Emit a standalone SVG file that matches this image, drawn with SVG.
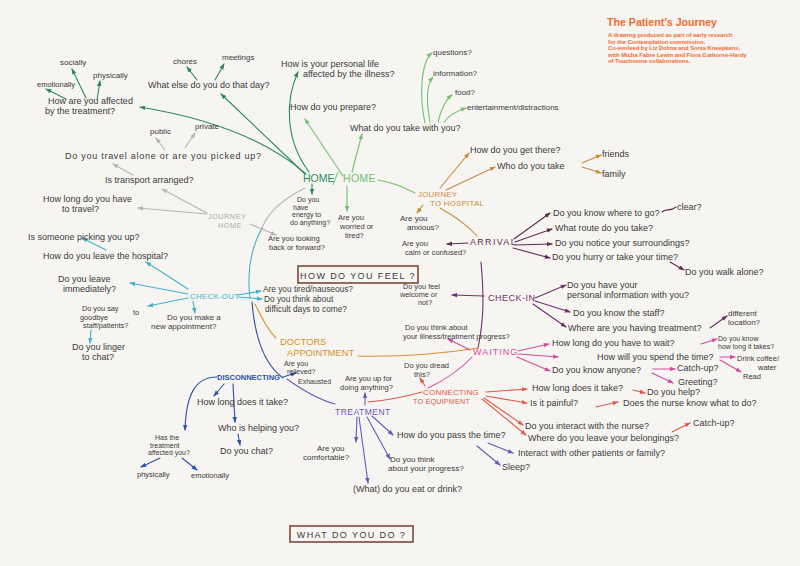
<svg xmlns="http://www.w3.org/2000/svg" width="800" height="566" viewBox="0 0 800 566">
<style>
.t{font-family:"Liberation Sans",Arial,sans-serif;font-size:9px;fill:#3a3a3a}
.s{font-size:8px}
.xs{font-size:7.5px}
.h{font-family:"Liberation Sans",Arial,sans-serif;font-size:9px;letter-spacing:0.8px}
.c{fill:none;stroke-width:1.1;stroke-linecap:round}
.dg{stroke:#2a8a5a}.lg{stroke:#72c072}.gr{stroke:#b5b5b5}.cy{stroke:#40b3cc}.bl{stroke:#2d50a8}
.pu{stroke:#6a58b8}.rd{stroke:#e0584a}.mg{stroke:#d24ca0}.pl{stroke:#6e2f6e}.mr{stroke:#5c2d4f}.or{stroke:#c98a3a}.da{stroke:#d4922a}
.box{fill:none;stroke:#7a4a3a;stroke-width:1.6}
.ttl{font-family:"Liberation Sans",Arial,sans-serif;fill:#f26a2e;font-weight:bold}
</style>
<defs>
<marker id="a-dg" viewBox="0 0 8 8" refX="7" refY="4" markerWidth="6" markerHeight="6" markerUnits="userSpaceOnUse" orient="auto"><path d="M0,1 L8,4 L0,7z" fill="#2a8a5a"/></marker>
<marker id="a-lg" viewBox="0 0 8 8" refX="7" refY="4" markerWidth="6" markerHeight="6" markerUnits="userSpaceOnUse" orient="auto"><path d="M0,1 L8,4 L0,7z" fill="#72c072"/></marker>
<marker id="a-gr" viewBox="0 0 8 8" refX="7" refY="4" markerWidth="6" markerHeight="6" markerUnits="userSpaceOnUse" orient="auto"><path d="M0,1 L8,4 L0,7z" fill="#b5b5b5"/></marker>
<marker id="a-cy" viewBox="0 0 8 8" refX="7" refY="4" markerWidth="6" markerHeight="6" markerUnits="userSpaceOnUse" orient="auto"><path d="M0,1 L8,4 L0,7z" fill="#40b3cc"/></marker>
<marker id="a-bl" viewBox="0 0 8 8" refX="7" refY="4" markerWidth="6" markerHeight="6" markerUnits="userSpaceOnUse" orient="auto"><path d="M0,1 L8,4 L0,7z" fill="#2d50a8"/></marker>
<marker id="a-pu" viewBox="0 0 8 8" refX="7" refY="4" markerWidth="6" markerHeight="6" markerUnits="userSpaceOnUse" orient="auto"><path d="M0,1 L8,4 L0,7z" fill="#6a58b8"/></marker>
<marker id="a-rd" viewBox="0 0 8 8" refX="7" refY="4" markerWidth="6" markerHeight="6" markerUnits="userSpaceOnUse" orient="auto"><path d="M0,1 L8,4 L0,7z" fill="#e0584a"/></marker>
<marker id="a-mg" viewBox="0 0 8 8" refX="7" refY="4" markerWidth="6" markerHeight="6" markerUnits="userSpaceOnUse" orient="auto"><path d="M0,1 L8,4 L0,7z" fill="#d24ca0"/></marker>
<marker id="a-pl" viewBox="0 0 8 8" refX="7" refY="4" markerWidth="6" markerHeight="6" markerUnits="userSpaceOnUse" orient="auto"><path d="M0,1 L8,4 L0,7z" fill="#6e2f6e"/></marker>
<marker id="a-mr" viewBox="0 0 8 8" refX="7" refY="4" markerWidth="6" markerHeight="6" markerUnits="userSpaceOnUse" orient="auto"><path d="M0,1 L8,4 L0,7z" fill="#5c2d4f"/></marker>
<marker id="a-or" viewBox="0 0 8 8" refX="7" refY="4" markerWidth="6" markerHeight="6" markerUnits="userSpaceOnUse" orient="auto"><path d="M0,1 L8,4 L0,7z" fill="#c98a3a"/></marker>
</defs>
<rect width="800" height="566" fill="#f7f5f2"/>

<g id="title">
<text class="ttl" x="607" y="26" font-size="11.5" textLength="110" lengthAdjust="spacingAndGlyphs">The Patient’s Journey</text>
<text class="ttl" font-size="5.8"><tspan x="608" y="37">A drawing produced as part of early research</tspan><tspan x="608" y="43.5">for the Contemplation commission.</tspan><tspan x="608" y="50">Co-evolved by Liz Dolma and Sonia Kneepkens,</tspan><tspan x="608" y="56.5">with Micha Fabre Lewin and Flora Gathorne-Hardy</tspan><tspan x="608" y="63">of Touchstone collaborations.</tspan></text>
</g>

<g id="connectors">
<path class="c gr" d="M305,188 C285,198 268,212 262,228"/>
<path class="c cy" d="M262,228 C250,250 247,275 250,298"/>
<path class="c bl" d="M252,302 C255,340 265,365 283,378"/>
<path class="c pu" d="M287,379 C305,392 320,400 335,404"/>
<path class="c rd" d="M368,402 C390,400 408,396 422,392"/>
<path class="c mg" d="M428,388 C445,380 460,370 472,357"/>
<path class="c pl" d="M478,348 C484,320 484,295 481,262"/>
<path class="c or" d="M440,208 C458,218 470,228 477,236"/>
<path class="c lg" d="M378,180 C395,183 405,188 415,193"/>
<path class="c da" d="M255,304 C262,318 268,330 276,338"/>
<path class="c da" d="M358,356 C400,357 440,354 478,348"/>
<path class="c dg" d="M306,174 Q250,125 140,107" marker-end="url(#a-dg)"/>
<path class="c dg" d="M305,174 L221,94" marker-end="url(#a-dg)"/>
<path class="c dg" d="M309,172 C285,140 285,100 298,72" marker-end="url(#a-dg)"/>
<path class="c dg" d="M312,184 L312,194" marker-end="url(#a-dg)"/>
<path class="c dg" d="M86,98 L72,69" marker-end="url(#a-dg)"/>
<path class="c dg" d="M66,99 L46,89" marker-end="url(#a-dg)"/>
<path class="c dg" d="M97,100 L100,81" marker-end="url(#a-dg)"/>
<path class="c dg" d="M197,80 L187,67" marker-end="url(#a-dg)"/>
<path class="c dg" d="M215,80 L224,64" marker-end="url(#a-dg)"/>
<path class="c lg" d="M343,176 L305,119" marker-end="url(#a-lg)"/>
<path class="c lg" d="M352,172 L362,134" marker-end="url(#a-lg)"/>
<path class="c lg" d="M425,123 C419,95 421,62 432,53" marker-end="url(#a-lg)"/>
<path class="c lg" d="M430,122 C426,100 427,84 433,77" marker-end="url(#a-lg)"/>
<path class="c lg" d="M438,122 C441,110 445,100 452,95" marker-end="url(#a-lg)"/>
<path class="c lg" d="M444,122 C449,115 457,111 466,108" marker-end="url(#a-lg)"/>
<path class="c lg" d="M347,186 L347,211" marker-end="url(#a-lg)"/>
<path class="c gr" d="M207,213 L162,189" marker-end="url(#a-gr)"/>
<path class="c gr" d="M133,175 L113,164" marker-end="url(#a-gr)"/>
<path class="c gr" d="M165,150 L156,138" marker-end="url(#a-gr)"/>
<path class="c gr" d="M185,148 L195,133" marker-end="url(#a-gr)"/>
<path class="c gr" d="M207,214 L138,208" marker-end="url(#a-gr)"/>
<path class="c gr" d="M250,224 L276,235" marker-end="url(#a-gr)"/>
<path class="c cy" d="M188,289 L146,262" marker-end="url(#a-cy)"/>
<path class="c cy" d="M106,250 L82,238" marker-end="url(#a-cy)"/>
<path class="c cy" d="M188,294 L130,283" marker-end="url(#a-cy)"/>
<path class="c cy" d="M188,298 L148,306" marker-end="url(#a-cy)"/>
<path class="c cy" d="M91,330 L90,343" marker-end="url(#a-cy)"/>
<path class="c cy" d="M193,301 L195,313" marker-end="url(#a-cy)"/>
<path class="c cy" d="M238,295 L261,291" marker-end="url(#a-cy)"/>
<path class="c cy" d="M238,297 L262,299" marker-end="url(#a-cy)"/>
<path class="c bl" d="M283,377 L296,373" marker-end="url(#a-bl)"/>
<path class="c bl" d="M224,384 L214,396" marker-end="url(#a-bl)"/>
<path class="c bl" d="M233,384 L235,422" marker-end="url(#a-bl)"/>
<path class="c bl" d="M238,434 L240,445" marker-end="url(#a-bl)"/>
<path class="c bl" d="M217,377 C195,377 186,395 185,430" marker-end="url(#a-bl)"/>
<path class="c bl" d="M160,458 L141,467" marker-end="url(#a-bl)"/>
<path class="c bl" d="M182,458 L197,470" marker-end="url(#a-bl)"/>
<path class="c pu" d="M365,405 L365,393" marker-end="url(#a-pu)"/>
<path class="c pu" d="M357,417 L356,442" marker-end="url(#a-pu)"/>
<path class="c pu" d="M359,417 L368,483" marker-end="url(#a-pu)"/>
<path class="c pu" d="M367,417 L390,459" marker-end="url(#a-pu)"/>
<path class="c pu" d="M372,416 L393,435" marker-end="url(#a-pu)"/>
<path class="c pu" d="M488,443 L513,453" marker-end="url(#a-pu)"/>
<path class="c pu" d="M477,446 L500,465" marker-end="url(#a-pu)"/>
<path class="c rd" d="M486,392 L527,389" marker-end="url(#a-rd)"/>
<path class="c rd" d="M633,390 L645,393" marker-end="url(#a-rd)"/>
<path class="c rd" d="M486,396 L527,403" marker-end="url(#a-rd)"/>
<path class="c rd" d="M596,407 L618,402" marker-end="url(#a-rd)"/>
<path class="c rd" d="M484,398 L523,425" marker-end="url(#a-rd)"/>
<path class="c rd" d="M482,399 L526,435" marker-end="url(#a-rd)"/>
<path class="c rd" d="M672,432 L690,423" marker-end="url(#a-rd)"/>
<path class="c rd" d="M425,386 L420,378" marker-end="url(#a-rd)"/>
<path class="c mg" d="M470,350 L448,339" marker-end="url(#a-mg)"/>
<path class="c mg" d="M518,351 L549,344" marker-end="url(#a-mg)"/>
<path class="c mg" d="M701,344 L717,339" marker-end="url(#a-mg)"/>
<path class="c mg" d="M518,354 L558,357" marker-end="url(#a-mg)"/>
<path class="c mg" d="M720,357 L735,357" marker-end="url(#a-mg)"/>
<path class="c mg" d="M720,360 L741,372" marker-end="url(#a-mg)"/>
<path class="c mg" d="M517,357 L550,371" marker-end="url(#a-mg)"/>
<path class="c mg" d="M653,369 L675,369" marker-end="url(#a-mg)"/>
<path class="c mg" d="M652,373 L673,383" marker-end="url(#a-mg)"/>
<path class="c pl" d="M484,296 L452,295" marker-end="url(#a-pl)"/>
<path class="c pl" d="M535,298 L566,285" marker-end="url(#a-pl)"/>
<path class="c pl" d="M535,301 L570,312" marker-end="url(#a-pl)"/>
<path class="c pl" d="M533,304 L566,327" marker-end="url(#a-pl)"/>
<path class="c pl" d="M710,328 L727,316" marker-end="url(#a-pl)"/>
<path class="c mr" d="M468,243 L447,244" marker-end="url(#a-mr)"/>
<path class="c mr" d="M514,239 L550,213" marker-end="url(#a-mr)"/>
<path class="c mr" d="M515,242 L552,229" marker-end="url(#a-mr)"/>
<path class="c mr" d="M515,245 L552,244" marker-end="url(#a-mr)"/>
<path class="c mr" d="M513,248 L550,258" marker-end="url(#a-mr)"/>
<path class="c mr" d="M662,212 C666,208 670,212 676,207"/>
<path class="c mr" d="M670,262 L684,270" marker-end="url(#a-mr)"/>
<path class="c or" d="M423,205 L417,213" marker-end="url(#a-or)"/>
<path class="c or" d="M440,188 L469,153" marker-end="url(#a-or)"/>
<path class="c or" d="M446,190 L495,167" marker-end="url(#a-or)"/>
<path class="c or" d="M582,163 L601,155" marker-end="url(#a-or)"/>
<path class="c or" d="M582,167 L601,173" marker-end="url(#a-or)"/>
</g>

<g id="home"><text class="h" x="303" y="182" style="font-size:10.5px;letter-spacing:0" fill="#2a8a5a">HOME</text><path d="M338,172 L333,185" stroke="#72c072" stroke-width="1"/><text class="h" x="343" y="182" style="font-size:10.5px;letter-spacing:0.3px" fill="#72c072">HOME</text></g>
<g id="n-affected"><text class="t"><tspan x="48" y="104">How are you affected</tspan><tspan x="45" y="114">by the treatment?</tspan></text></g>
<g id="n-socially"><text class="t s" x="60" y="65">socially</text></g>
<g id="n-emotionally"><text class="t xs" x="37" y="87">emotionally</text></g>
<g id="n-physically"><text class="t s" x="93" y="78">physically</text></g>
<g id="n-whatelse"><text class="t" x="148" y="88">What else do you do that day?</text></g>
<g id="n-chores"><text class="t s" x="173" y="64">chores</text></g>
<g id="n-meetings"><text class="t s" x="222" y="60">meetings</text></g>
<g id="n-personal"><text class="t"><tspan x="281" y="67">How is your personal life</tspan><tspan x="303" y="77">affected by the illness?</tspan></text></g>
<g id="n-energy"><text class="t" style="font-size:7px"><tspan x="297" y="202">Do you</tspan><tspan x="293" y="209.5">have</tspan><tspan x="292" y="217">energy to</tspan><tspan x="290" y="224.5">do anything?</tspan></text></g>
<g id="n-prepare"><text class="t" x="290" y="110">How do you prepare?</text></g>
<g id="n-take"><text class="t" x="350" y="131">What do you take with you?</text></g>
<g id="n-questions"><text class="t s" x="433" y="55">questions?</text></g>
<g id="n-information"><text class="t s" x="433" y="76">information?</text></g>
<g id="n-food"><text class="t s" x="455" y="95">food?</text></g>
<g id="n-entertainment"><text class="t s" x="467" y="110">entertainment/distractions</text></g>
<g id="n-worried"><text class="t xs"><tspan x="338" y="220">Are you</tspan><tspan x="340" y="229">worried or</tspan><tspan x="345" y="238">tired?</tspan></text></g>

<g id="n-journeyhome"><text class="h" style="font-size:7.3px;letter-spacing:0.5px" fill="#aaaaaa"><tspan x="208" y="219">JOURNEY</tspan><tspan x="218" y="227.5">HOME</tspan></text></g>
<g id="n-travelalone"><text class="t" x="65" y="159" textLength="196" lengthAdjust="spacing">Do you travel alone or are you picked up?</text></g>
<g id="n-public"><text class="t s" x="150" y="134">public</text></g>
<g id="n-private"><text class="t s" x="195" y="129">private</text></g>
<g id="n-transport"><text class="t" x="105" y="183">Is transport arranged?</text></g>
<g id="n-howlong"><text class="t"><tspan x="43" y="202">How long do you have</tspan><tspan x="62" y="212">to travel?</tspan></text></g>
<g id="n-lookingback"><text class="t xs"><tspan x="268" y="241">Are you looking</tspan><tspan x="269" y="250">back or forward?</tspan></text></g>

<g id="n-checkout"><text class="h" x="190" y="299" style="font-size:8px;letter-spacing:0.2px" fill="#40b3cc">CHECK-OUT</text></g>
<g id="n-pickingup"><text class="t" x="28" y="240">Is someone picking you up?</text></g>
<g id="n-leave"><text class="t" x="43" y="259">How do you leave the hospital?</text></g>
<g id="n-immediately"><text class="t"><tspan x="58" y="282">Do you leave</tspan><tspan x="63" y="292">immediately?</tspan></text></g>
<g id="n-goodbye"><text class="t" style="font-size:7.3px"><tspan x="82" y="311">Do you say</tspan><tspan x="133" y="315">to</tspan><tspan x="80" y="319.5">goodbye</tspan><tspan x="83" y="328">staff/patients?</tspan></text></g>
<g id="n-linger"><text class="t"><tspan x="72" y="350">Do you linger</tspan><tspan x="82" y="360">to chat?</tspan></text></g>
<g id="n-appointment"><text class="t s"><tspan x="167" y="320">Do you make a</tspan><tspan x="151" y="329">new appointment?</tspan></text></g>
<g id="n-tired"><text class="t" style="font-size:8.3px" x="263" y="292">Are you tired/nauseous?</text></g>
<g id="n-difficult"><text class="t" style="font-size:8.3px"><tspan x="264" y="302">Do you think about</tspan><tspan x="265" y="312">difficult days to come?</tspan></text></g>

<g id="n-feel"><rect class="box" x="298" y="266" width="120" height="17"/><text class="h" x="358" y="278.5" text-anchor="middle" fill="#3a3a3a" style="letter-spacing:1.4px">HOW DO YOU FEEL ?</text></g>
<g id="n-doctors"><text class="h" style="font-size:9.3px;letter-spacing:0" fill="#d4922a"><tspan x="280" y="345">DOCTORS</tspan><tspan x="287" y="356">APPOINTMENT</tspan></text></g>

<g id="n-disconnecting"><text class="h" x="217" y="380" style="font-size:7.5px;letter-spacing:0;font-weight:bold" fill="#2d50a8">DISCONNECTING</text></g>
<g id="n-howlongtake"><text class="t" x="197" y="405">How long does it take?</text></g>
<g id="n-helping"><text class="t" x="218" y="431">Who is helping you?</text></g>
<g id="n-chat"><text class="t" x="220" y="454">Do you chat?</text></g>
<g id="n-hastreatment"><text class="t" style="font-size:7px"><tspan x="155" y="440">Has the</tspan><tspan x="150" y="447.5">treatment</tspan><tspan x="148" y="455">affected you?</tspan></text></g>
<g id="n-physically2"><text class="t xs" x="137" y="477">physically</text></g>
<g id="n-emotionally2"><text class="t xs" x="191" y="478">emotionally</text></g>
<g id="n-relieved"><text class="t" style="font-size:7px"><tspan x="284" y="366">Are you</tspan><tspan x="287" y="374">relieved?</tspan><tspan x="298" y="384">Exhausted</tspan></text></g>

<g id="n-treatment"><text class="h" x="335" y="415" style="font-size:8.5px;letter-spacing:0.5px" fill="#6a58b8">TREATMENT</text></g>
<g id="n-upfor"><text class="t xs"><tspan x="345" y="381">Are you up for</tspan><tspan x="340" y="390">doing anything?</tspan></text></g>
<g id="n-comfortable"><text class="t s"><tspan x="317" y="451">Are you</tspan><tspan x="303" y="460">comfortable?</tspan></text></g>
<g id="n-eat"><text class="t" x="353" y="492">(What) do you eat or drink?</text></g>
<g id="n-progress"><text class="t s"><tspan x="390" y="462">Do you think</tspan><tspan x="388" y="471">about your progress?</tspan></text></g>
<g id="n-passtime"><text class="t" x="397" y="438">How do you pass the time?</text></g>
<g id="n-interact"><text class="t" x="518" y="456">Interact with other patients or family?</text></g>
<g id="n-sleep"><text class="t" x="502" y="470">Sleep?</text></g>

<g id="n-connecting"><text class="h" fill="#e0584a" style="font-size:8px;letter-spacing:0.2px"><tspan x="423" y="395">CONNECTING</tspan><tspan x="413" y="404" style="font-size:7.2px">TO EQUIPMENT</tspan></text></g>
<g id="n-howlongtake2"><text class="t" x="532" y="391">How long does it take?</text></g>
<g id="n-help"><text class="t" x="647" y="395">Do you help?</text></g>
<g id="n-painful"><text class="t" x="530" y="406">Is it painful?</text></g>
<g id="n-nurseknow"><text class="t" x="623" y="406">Does the nurse know what to do?</text></g>
<g id="n-interactnurse"><text class="t" x="525" y="429">Do you interact with the nurse?</text></g>
<g id="n-catchup2"><text class="t" x="693" y="426">Catch-up?</text></g>
<g id="n-belongings"><text class="t" x="528" y="441">Where do you leave your belongings?</text></g>

<g id="n-waiting"><text class="h" x="473" y="355" style="letter-spacing:1px" fill="#d24ca0">WAITING</text></g>
<g id="n-dread"><text class="t xs"><tspan x="404" y="368">Do you dread</tspan><tspan x="414" y="376.5">this?</tspan></text></g>
<g id="n-illness"><text class="t xs"><tspan x="405" y="330">Do you think about</tspan><tspan x="403" y="339">your illness/treatment progress?</tspan></text></g>
<g id="n-wait"><text class="t" x="552" y="346">How long do you have to wait?</text></g>
<g id="n-knowhow"><text class="t" style="font-size:7px"><tspan x="718" y="341">Do you know</tspan><tspan x="718" y="348.5">how long it takes?</tspan></text></g>
<g id="n-spend"><text class="t" x="597" y="360">How will you spend the time?</text></g>
<g id="n-drink"><text class="t xs"><tspan x="737" y="361">Drink coffee/</tspan><tspan x="758" y="370">water</tspan></text></g>
<g id="n-read"><text class="t xs" x="743" y="379">Read</text></g>
<g id="n-anyone"><text class="t" x="552" y="373">Do you know anyone?</text></g>
<g id="n-catchup"><text class="t" x="677" y="371">Catch-up?</text></g>
<g id="n-greeting"><text class="t" x="678" y="385">Greeting?</text></g>

<g id="n-checkin"><text class="h" x="488" y="301" style="letter-spacing:0.5px" fill="#6e2f6e">CHECK-IN</text></g>
<g id="n-welcome"><text class="t" style="font-size:7.3px"><tspan x="403" y="289">Do you feel</tspan><tspan x="400" y="297">welcome or</tspan><tspan x="418" y="305">not?</tspan></text></g>
<g id="n-personalinfo"><text class="t"><tspan x="567" y="288">Do you have your</tspan><tspan x="567" y="298">personal information with you?</tspan></text></g>
<g id="n-staff"><text class="t" x="573" y="316">Do you know the staff?</text></g>
<g id="n-where"><text class="t" x="568" y="331">Where are you having treatment?</text></g>
<g id="n-different"><text class="t s"><tspan x="728" y="316">different</tspan><tspan x="728" y="325">location?</tspan></text></g>

<g id="n-arrival"><text class="h" x="470" y="245" style="letter-spacing:1.3px" fill="#5c2d4f">ARRIVAL</text></g>
<g id="n-anxious"><text class="t s"><tspan x="400" y="221">Are you</tspan><tspan x="407" y="230">anxious?</tspan></text></g>
<g id="n-calm"><text class="t xs"><tspan x="402" y="246">Are you</tspan><tspan x="405" y="255">calm or confused?</tspan></text></g>
<g id="n-knowwhere"><text class="t" x="553" y="216">Do you know where to go?</text></g>
<g id="n-clear"><text class="t" x="677" y="210">clear?</text></g>
<g id="n-route"><text class="t" x="555" y="231">What route do you take?</text></g>
<g id="n-notice"><text class="t" x="555" y="246">Do you notice your surroundings?</text></g>
<g id="n-hurry"><text class="t" x="552" y="260">Do you hurry or take your time?</text></g>
<g id="n-walkalone"><text class="t" x="685" y="275">Do you walk alone?</text></g>

<g id="n-journeyhosp"><text class="h" fill="#c98a3a" style="font-size:7.8px;letter-spacing:0.3px"><tspan x="418" y="196.5">JOURNEY</tspan><tspan x="430" y="206">TO HOSPITAL</tspan></text></g>
<g id="n-getthere"><text class="t" x="470" y="153">How do you get there?</text></g>
<g id="n-whotake"><text class="t" x="497" y="169">Who do you take</text></g>
<g id="n-friends"><text class="t" x="602" y="157">friends</text></g>
<g id="n-family"><text class="t" x="602" y="177">family</text></g>

<g id="n-whatdo"><rect class="box" x="290" y="526" width="123" height="16"/><text class="h" x="351.5" y="537.5" text-anchor="middle" fill="#3a3a3a" style="letter-spacing:1.4px">WHAT DO YOU DO ?</text></g>
</svg>
